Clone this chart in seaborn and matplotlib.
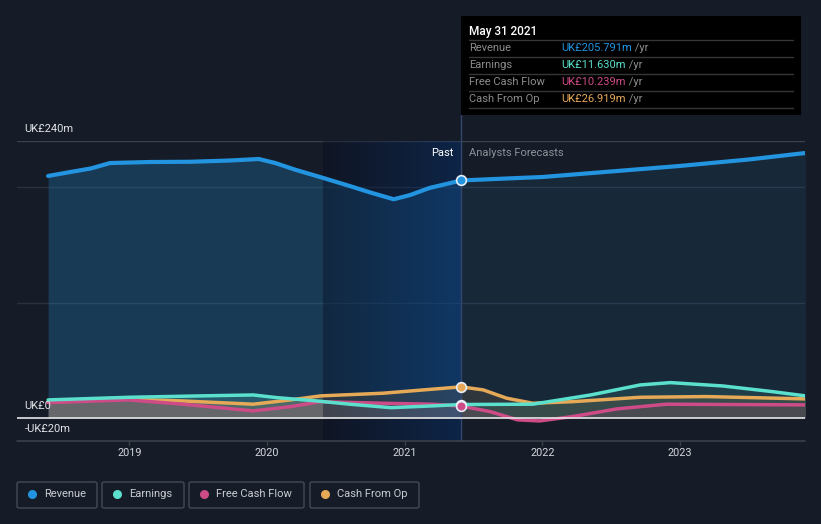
import numpy as np
import pandas as pd
import matplotlib.pyplot as plt
import seaborn as sns
from matplotlib.patches import Rectangle, FancyBboxPatch
from matplotlib.lines import Line2D

# values (UK£m, fractional years)
revenue_x = [2018.41, 2018.57, 2018.72, 2018.86, 2019.15, 2019.44, 2019.73, 2019.94, 2020.06, 2020.20,
             2020.41, 2020.60, 2020.75, 2020.92, 2021.04, 2021.18, 2021.41,
             2021.70, 2022.00, 2022.50, 2023.00, 2023.50, 2023.91]
revenue_y = [209.7, 213.1, 216.2, 220.9, 221.8, 222.0, 223.1, 224.4, 220.9, 215.3,
             207.9, 201.0, 195.4, 189.5, 193.2, 199.3, 205.791,
             207.3, 208.8, 213.6, 218.4, 224.0, 229.6]

earnings_x = [2018.41, 2019.00, 2019.52, 2019.90, 2020.07, 2020.36, 2020.60, 2020.90, 2021.20, 2021.41,
              2021.93, 2022.35, 2022.71, 2022.93, 2023.31, 2023.67, 2023.91]
earnings_y = [15.6, 17.9, 19.1, 19.9, 17.6, 14.7, 11.9, 8.9, 10.4, 11.630,
              11.9, 19.9, 28.6, 30.6, 27.7, 22.8, 19.1]

fcf_x = [2018.41, 2018.99, 2019.39, 2019.90, 2020.17, 2020.39, 2020.84, 2021.20, 2021.41,
         2021.62, 2021.82, 2021.98, 2022.22, 2022.54, 2022.90, 2023.91]
fcf_y = [13.3, 15.6, 11.9, 6.1, 9.8, 14.1, 12.7, 11.9, 10.239,
         5.5, -1.7, -2.6, 1.2, 7.8, 11.9, 11.3]

cfo_x = [2018.41, 2018.91, 2019.39, 2019.90, 2020.17, 2020.39, 2020.84, 2021.20, 2021.41,
         2021.57, 2021.74, 2021.93, 2022.22, 2022.71, 2023.19, 2023.91]
cfo_y = [13.6, 16.5, 14.7, 11.9, 15.6, 19.1, 21.4, 24.9, 26.919,
         24.3, 17.1, 12.7, 14.1, 17.9, 18.5, 16.5]

names = ["Revenue", "Earnings", "Free Cash Flow", "Cash From Op"]
values = ["UK£205.791m", "UK£11.630m", "UK£10.239m", "UK£26.919m"]
colors = ["#2394df", "#5ae0cd", "#cd4b87", "#e6a957"]
y_ticks = [240, 0, -20]
y_labels = ["UK£240m", "UK£0", "-UK£20m"]
x_years = [2019, 2020, 2021, 2022, 2023]
now = 2021.41
past_start = 2020.41

BG = "#161c27"
sns.set_style("dark", {"axes.facecolor": BG, "figure.facecolor": BG})
plt.rcParams["font.family"] = ["Roboto", "DejaVu Sans"]

W, H = 821, 524
fig = plt.figure(figsize=(8.21, 5.24), dpi=100)
ax = fig.add_axes([17 / W, 1 - 441 / H, 788 / W, 300 / H])
x0, x1 = 2018.184, 2023.907
ax.set_xlim(x0, x1)
ax.set_ylim(-20, 240)
for s in ax.spines.values():
    s.set_visible(False)
ax.set_xticks([])
ax.set_yticks([])

# grid
ax.axhline(240, color="#3c4049", lw=1, zorder=1)
for v in [200, 100]:
    ax.axhline(v, color="#2a313e", lw=1, zorder=1)
ax.axhline(-20, color="#3c4049", lw=1.2, zorder=6, clip_on=False)

series = [(revenue_x, revenue_y), (earnings_x, earnings_y), (fcf_x, fcf_y), (cfo_x, cfo_y)]

# area fills
for i, (xs, ys) in enumerate(series):
    xs = np.array(xs)
    ys = np.array(ys)
    k = int(np.argmin(np.abs(xs - now)))
    a_past, a_fut = (0.25, 0.1) if i == 0 else (0.2, 0.12)
    ax.fill_between(xs[:k + 1], ys[:k + 1], 0, color=colors[i], alpha=a_past, lw=0, zorder=2)
    ax.fill_between(xs[k:], ys[k:], 0, color=colors[i], alpha=a_fut, lw=0, zorder=2)

# past-year highlight
n = 256
t = np.linspace(0, 1, n)
c0 = np.array([5, 10, 30]) / 255
c1 = np.array([0, 51, 125]) / 255
grad = np.zeros((1, n, 4))
grad[0, :, :3] = c0 + (c1 - c0) * t[:, None]
grad[0, :, 3] = 0.38
ax.imshow(grad, extent=[past_start, now, -20, 240], aspect="auto", zorder=2.5, interpolation="bilinear")
ax.set_xlim(x0, x1)
ax.set_ylim(-20, 240)

ax.axhline(0, color="#e6e6e6", lw=1.2, zorder=5)
ax.axvline(now, ymin=0, ymax=(441 - 115) / 300, color="#34466a", lw=1, zorder=2.6, clip_on=False)

# lines
for i, (xs, ys) in enumerate(series):
    df = pd.DataFrame({"x": xs, "y": ys})
    sns.lineplot(data=df, x="x", y="y", ax=ax, color=colors[i], lw=3 if i == 0 else 2.5,
                 sort=False, zorder=4 - i * 0.1)
ax.set_xlabel("")
ax.set_ylabel("")

for i, (xs, ys) in enumerate(series):
    k = int(np.argmin(np.abs(np.array(xs) - now)))
    ax.plot([xs[k]], [ys[k]], "o", ms=7, mfc=colors[i], mec="#e8eef8", mew=1.2, zorder=7)

# tick labels
for yr in x_years:
    ax.add_line(Line2D([yr, yr], [-20, -23.5], color="#3c4049", lw=1, clip_on=False))
    ax.text(yr, -30.5, str(yr), ha="center", va="center", color="#d3d6dc", fontsize=7.8)

for v, lab in zip(y_ticks, y_labels):
    ax.text(x0 + 7.5 / 137.7, v + 10.4, lab, ha="left", va="center", color="#e0e2e6",
            fontsize=8, zorder=8)

ax.annotate("Past", xy=(now, 229.6), xytext=(-8, 0), textcoords="offset pixels",
            ha="right", va="center", color="#ffffff", fontsize=8, zorder=8)
ax.annotate("Analysts Forecasts", xy=(now, 229.6), xytext=(8, 0), textcoords="offset pixels",
            ha="left", va="center", color="#8d9199", fontsize=8, zorder=8)


def fx(px):
    return px / W


def fy(py):
    return 1 - py / H


# tooltip
fig.add_artist(Rectangle((fx(461), fy(115)), 340 / W, 99 / H, transform=fig.transFigure,
                         fc="#000000", ec="none", zorder=10))
fig.text(fx(469), fy(31), "May 31 2021", color="#ffffff", fontsize=8.5, fontweight="medium",
         va="center", ha="left", zorder=11)
for py in [40.3, 57.3, 74.3, 91.3, 108.3]:
    fig.add_artist(Line2D([fx(469), fx(793)], [fy(py), fy(py)], transform=fig.transFigure,
                          color="#363636", lw=1, zorder=11))
for i, py in enumerate([48.3, 65.3, 82.1, 99.0]):
    fig.text(fx(469), fy(py), names[i], color="#8c8c8c", fontsize=8, va="center", ha="left", zorder=11)
    tv = fig.text(fx(561), fy(py), values[i], color=colors[i], fontsize=8, va="center", ha="left", zorder=11)
    fig.add_artist(plt.Annotation(" /yr", xy=(1, 0.5), xycoords=tv, va="center", ha="left",
                                  color="#8c8c8c", fontsize=8, zorder=11))

# legend boxes
boxes = [(17, 97), (102, 184), (189, 304), (310, 419)]
for i, (bx0, bx1) in enumerate(boxes):
    fig.add_artist(FancyBboxPatch((fx(bx0), fy(508)), (bx1 - bx0) / W, 26 / H,
                                  boxstyle="round,pad=0,rounding_size=0.003", transform=fig.transFigure,
                                  fc="none", ec="#454a55", lw=1))
    fig.add_artist(Line2D([fx(bx0 + 15)], [fy(494)], transform=fig.transFigure, marker="o", ms=6.5,
                          mfc=colors[i], mec="none", lw=0))
    fig.text(fx(bx0 + 27), fy(494), names[i], color="#c9ccd1", fontsize=8, va="center", ha="left")

fig.savefig("out.png", dpi=100, facecolor=BG)
